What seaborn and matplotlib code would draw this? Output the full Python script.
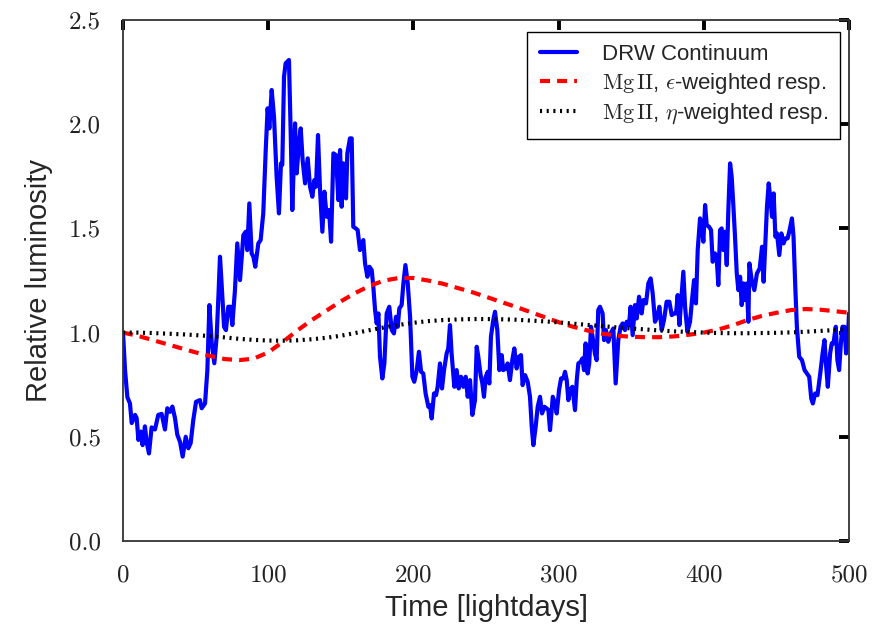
import matplotlib
matplotlib.use("Agg")
import matplotlib.pyplot as plt
import seaborn as sns

# -------------------------------
# Data
# -------------------------------
drw_time = [
    0.0, 1.4, 3.0, 4.8, 6.0, 8.3, 9.4, 10.6, 12.2, 13.5, 15.1, 16.3, 17.9, 19.7, 22.0, 24.3,
    26.6, 28.9, 30.5, 32.4, 34.0, 35.8, 37.4, 39.3, 41.1, 43.2, 45.0, 46.6, 48.4, 50.3, 53.0,
    54.2, 56.5, 58.1, 59.5, 61.1, 62.9, 64.5, 65.7, 66.8, 67.9, 69.6, 70.9, 72.5, 74.1, 75.3,
    77.1, 78.7, 80.6, 82.9, 84.5, 85.6, 87.0, 88.6, 89.8, 91.1, 93.2, 94.8, 96.6, 98.3, 99.6,
    100.8, 102.4, 104.0, 105.8, 107.4, 108.8, 109.7, 110.9, 112.0, 114.3, 115.5, 116.6, 118.5,
    119.6, 121.2, 122.4, 123.7, 125.4, 127.2, 128.8, 130.4, 131.8, 132.9, 134.3, 135.7, 137.3,
    138.7, 140.3, 141.9, 143.3, 144.9, 146.7, 148.3, 149.5, 150.6, 151.8, 153.6, 154.5, 156.3,
    157.5, 158.6, 160.3, 161.6, 163.2, 165.5, 166.7, 168.3, 169.7, 171.3, 172.4, 173.6, 174.7,
    175.9, 177.0, 178.6, 180.0, 181.6, 183.4, 185.1, 186.6, 188.0, 189.2, 190.3, 191.9, 193.1,
    194.5, 196.1, 197.7, 199.3, 200.6, 202.3, 203.8, 205.3, 206.8, 208.4, 210.3, 211.4, 212.6,
    214.2, 215.6, 216.7, 218.3, 219.7, 221.1, 222.9, 224.0, 225.2, 226.3, 228.2, 229.8, 231.2,
    232.8, 234.4, 236.0, 237.4, 239.0, 240.6, 242.4, 243.6, 244.7, 246.3, 247.5, 248.6, 249.8,
    251.2, 252.3, 253.4, 255.0, 256.2, 257.8, 259.2, 260.8, 261.9, 263.5, 264.9, 266.5, 268.1,
    269.5, 271.1, 272.7, 274.1, 275.2, 276.9, 278.7, 280.3, 281.5, 282.6, 284.2, 285.6, 287.2,
    288.6, 290.2, 291.8, 293.0, 294.1, 296.0, 297.6, 298.7, 300.3, 301.7, 303.3, 304.4, 305.6,
    306.7, 307.9, 309.5, 311.3, 312.5, 313.6, 315.2, 316.4, 317.5, 318.6, 320.0, 321.1, 322.3,
    323.4, 325.0, 326.2, 327.3, 328.5, 330.3, 331.3, 332.6, 334.2, 335.8, 337.7, 339.3, 341.1,
    342.7, 344.1, 345.7, 346.9, 348.5, 349.6, 351.0, 352.6, 353.8, 355.4, 357.2, 358.4, 360.2,
    361.8, 363.4, 364.8, 366.4, 368.0, 369.4, 371.0, 372.6, 374.4, 376.3, 377.9, 379.5, 380.9,
    382.0, 383.2, 384.8, 385.9, 387.1, 388.7, 390.5, 392.1, 393.3, 394.6, 395.8, 397.4, 398.6,
    399.7, 400.9, 402.0, 403.6, 405.0, 406.1, 407.7, 408.9, 410.0, 411.2, 412.3, 413.5, 414.6,
    415.8, 416.9, 418.1, 419.2, 420.4, 421.5, 422.7, 423.8, 425.0, 426.1, 427.3, 428.4, 429.6,
    430.7, 431.4, 433.0, 434.8, 436.6, 438.5, 440.1, 441.2, 442.4, 443.5, 444.7, 445.8, 447.0,
    448.1, 449.3, 450.4, 452.0, 453.4, 455.0, 456.1, 457.7, 459.1, 460.7, 461.8, 463.0, 464.1,
    465.7, 467.6, 469.4, 471.0, 472.6, 474.0, 475.1, 476.7, 478.3, 480.2, 481.8, 483.1, 484.3,
    485.4, 487.0, 488.1, 489.3, 490.9, 492.0, 493.2, 494.4, 495.5, 496.9, 498.0, 499.2, 500.0,
]
drw_flux = [
    1.0, 0.82, 0.69, 0.66, 0.566, 0.605, 0.59, 0.485, 0.525, 0.46, 0.55, 0.475, 0.42, 0.545, 0.535, 0.605,
    0.61, 0.535, 0.637, 0.62, 0.645, 0.59, 0.51, 0.475, 0.405, 0.5, 0.445, 0.47, 0.58, 0.668, 0.676,
    0.637, 0.66, 0.82, 1.132, 0.949, 0.853, 0.98, 1.172, 1.364, 1.236, 1.028, 1.012, 1.124, 1.124, 1.036,
    1.204, 1.428, 1.252, 1.468, 1.484, 1.396, 1.62, 1.38, 1.364, 1.316, 1.428, 1.444, 1.572, 1.876, 2.076,
    1.98, 2.164, 2.036, 1.748, 1.572, 1.812, 1.805, 2.228, 2.292, 2.308, 1.956, 1.588, 2.004,
    1.764, 1.908, 1.98, 1.828, 1.716, 1.836, 1.70, 1.652, 1.732, 1.70, 1.948, 1.684, 1.484,
    1.676, 1.556, 1.588, 1.436, 1.86, 1.852, 1.636, 1.876, 1.604, 1.812, 1.644, 1.86, 1.932,
    1.932, 1.508, 1.50, 1.492, 1.396, 1.444, 1.332, 1.268, 1.316, 1.30, 1.22, 1.108, 1.044,
    1.092, 0.884, 0.78, 0.852, 1.092, 1.124, 1.012, 0.996, 1.076, 1.028, 1.116, 1.132, 1.236,
    1.324, 1.236, 1.076, 0.788, 0.764, 0.82, 0.908, 0.812, 0.804, 0.708, 0.644, 0.652, 0.588,
    0.708, 0.70, 0.74, 0.852, 0.732, 0.82, 0.90, 0.924, 1.036, 0.90, 0.74, 0.82, 0.732,
    0.788, 0.74, 0.788, 0.692, 0.772, 0.605, 0.676, 0.932, 0.884, 0.796, 0.756, 0.692, 0.788,
    0.812, 0.756, 0.98, 1.06, 1.10, 1.012, 0.82, 0.892, 0.82, 0.828, 0.852, 0.772, 0.868,
    0.924, 0.828, 0.884, 0.892, 0.748, 0.796, 0.764, 0.692, 0.548, 0.46, 0.548, 0.644, 0.692,
    0.612, 0.644, 0.636, 0.628, 0.532, 0.692, 0.66, 0.612, 0.724, 0.78, 0.78, 0.812, 0.772,
    0.676, 0.724, 0.74, 0.628, 0.772, 0.852, 0.86, 0.876, 0.82, 0.948, 0.804, 0.852, 1.028,
    0.98, 0.90, 0.868, 1.108, 1.124, 1.092, 0.964, 1.012, 0.956, 0.996, 1.02, 0.756, 0.964,
    1.028, 1.044, 1.012, 1.052, 1.036, 1.124, 0.988, 1.132, 1.068, 1.172, 1.092, 1.156, 1.14,
    1.236, 1.26, 1.188, 1.052, 1.076, 1.124, 1.012, 1.06, 1.148, 1.148, 1.084, 1.092, 1.092,
    1.18, 1.036, 1.188, 1.292, 1.124, 1.004, 1.052, 1.172, 1.252, 1.14, 1.396, 1.548, 1.508,
    1.436, 1.612, 1.516, 1.508, 1.492, 1.34, 1.38, 1.356, 1.228, 1.492, 1.50, 1.396, 1.484,
    1.324, 1.588, 1.812, 1.748, 1.604, 1.46, 1.284, 1.204, 1.268, 1.132, 1.236, 1.156, 1.236,
    1.052, 1.332, 1.252, 1.204, 1.284, 1.308, 1.412, 1.244, 1.428, 1.604, 1.716, 1.644, 1.556,
    1.668, 1.46, 1.476, 1.372, 1.476, 1.428, 1.452, 1.452, 1.492, 1.548, 1.46, 1.22, 1.028,
    0.884, 0.868, 0.82, 0.804, 0.788, 0.684, 0.66, 0.708, 0.70, 0.804, 0.90, 0.964, 0.836,
    0.74, 0.90, 0.948, 0.948, 1.028, 0.868, 0.82, 0.948, 1.028, 1.028, 0.90, 0.964, 1.092,
]

resp_time = [0, 10, 20, 30, 40, 50, 60, 70, 80, 90, 100, 110, 120, 130, 140, 150, 160, 170,
             180, 190, 200, 210, 220, 230, 240, 250, 260, 270, 280, 290, 300, 310, 320, 330,
             340, 350, 360, 370, 380, 390, 400, 410, 420, 430, 440, 450, 460, 470, 480, 490, 500]
eps_resp = [1.0, 0.985, 0.965, 0.945, 0.925, 0.905, 0.888, 0.873, 0.868, 0.875, 0.905, 0.955,
            1.01, 1.06, 1.105, 1.15, 1.19, 1.225, 1.25, 1.262, 1.262, 1.25, 1.235, 1.215, 1.195,
            1.172, 1.148, 1.125, 1.10, 1.075, 1.05, 1.028, 1.01, 0.995, 0.985, 0.98, 0.978,
            0.978, 0.982, 0.99, 1.0, 1.015, 1.035, 1.06, 1.08, 1.095, 1.108, 1.113, 1.11, 1.103, 1.095]
eta_resp = [1.0, 1.0, 0.998, 0.995, 0.992, 0.988, 0.983, 0.977, 0.97, 0.965, 0.962, 0.961,
            0.963, 0.968, 0.975, 0.985, 0.998, 1.012, 1.025, 1.037, 1.047, 1.055, 1.06, 1.063,
            1.065, 1.065, 1.064, 1.062, 1.058, 1.054, 1.049, 1.043, 1.037, 1.031, 1.025, 1.02,
            1.015, 1.01, 1.006, 1.003, 1.0, 0.998, 0.997, 0.997, 0.998, 0.999, 1.001, 1.004,
            1.008, 1.012, 1.017]

labels = ["DRW Continuum",
          r"$\mathrm{Mg\,II}$, $\epsilon$-weighted resp.",
          r"$\mathrm{Mg\,II}$, $\eta$-weighted resp."]

x_ticks = [0, 100, 200, 300, 400, 500]
y_ticks = [0.0, 0.5, 1.0, 1.5, 2.0, 2.5]

# -------------------------------
# Style
# -------------------------------
sns.set_style("white")
plt.rcParams["font.family"] = ["Liberation Sans", "DejaVu Sans"]
plt.rcParams["mathtext.fontset"] = "cm"

fig = plt.figure(figsize=(8.86, 6.32), dpi=100)
ax = fig.add_axes([123 / 886, 1 - 541 / 632, 726 / 886, 521 / 632])

sns.lineplot(x=drw_time, y=drw_flux, ax=ax, color="#0000ff", lw=3.0,
             sort=False, estimator=None, label=labels[0])
sns.lineplot(x=resp_time, y=eps_resp, ax=ax, color="#ff0000", lw=3.0,
             linestyle=(0, (2.4, 1.7)), sort=False, estimator=None, label=labels[1])
sns.lineplot(x=resp_time, y=eta_resp, ax=ax, color="black", lw=3.0,
             linestyle=(0, (0.5, 1.1)), dash_capstyle="butt",
             sort=False, estimator=None, label=labels[2])

ax.set_xlim(0, 500)
ax.set_ylim(0, 2.5)
ax.set_xticks(x_ticks)
ax.set_yticks(y_ticks)
ax.set_xticklabels([str(t) for t in x_ticks])
ax.set_yticklabels([f"{t:.1f}" for t in y_ticks])

for side in ["left", "right", "top", "bottom"]:
    ax.spines[side].set_visible(True)
    ax.spines[side].set_color("#333333")
    ax.spines[side].set_linewidth(1.3)

ax.tick_params(axis="both", which="major", direction="in", length=7, width=2.8,
               color="black", top=True, right=True, labelsize=18,
               labelfontfamily="cmr10", labelcolor="#222222")
ax.tick_params(axis="x", pad=17)
ax.tick_params(axis="y", pad=16)

ax.set_xlabel("Time [lightdays]", fontsize=21, labelpad=5)
ax.set_ylabel("Relative luminosity", fontsize=21, labelpad=11)

leg = ax.legend(loc="upper right", bbox_to_anchor=(0.988, 0.977), borderaxespad=0,
                fontsize=16, frameon=True, fancybox=False, framealpha=1,
                edgecolor="black", handlelength=1.7, handletextpad=1.1,
                labelspacing=0.26, borderpad=0.55)
leg.get_frame().set_linewidth(1.0)

fig.savefig("out.png", dpi=100)
